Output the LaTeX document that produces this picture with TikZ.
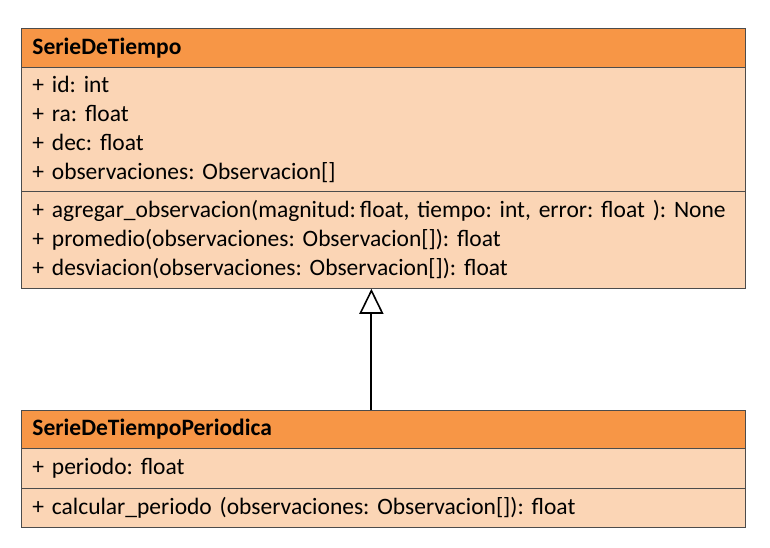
\documentclass[tikz,border=0pt]{standalone}
\usepackage{fontspec}
\setmainfont{Carlito}
\usetikzlibrary{arrows.meta}

\definecolor{cabecera}{HTML}{F79646}
\definecolor{cuerpo}{HTML}{FBD5B5}

\begin{document}
\frenchspacing
\begin{tikzpicture}
        [x=1pt,y=-1pt,every node/.style={draw=black!70,line width=0.8pt,anchor=north west,inner xsep=11pt,inner ysep=0pt,text width=702pt,align=left,font=\fontsize{23.5}{29}\selectfont},
        cabeza/.style={fill=cabecera,font=\fontsize{23.5}{29}\selectfont\bfseries},
        parte/.style={fill=cuerpo}]

        \useasboundingbox (0,0) rectangle (770,548);

        \node[cabeza,minimum height=39pt] (serie) at (21,28) {SerieDeTiempo};
        \node[parte,minimum height=124pt] (serieattr) at (21,67) {+ id: int\\+ ra: float\\+ dec: float\\+ observaciones: Observacion[]};
        \node[parte,minimum height=97pt] (seriemet) at (21,191) {\mbox{+ agregar\_observacion(magnitud:\,float, tiempo: int, error: float ): None}\\+ promedio(observaciones: Observacion[]): float\\+ desviacion(observaciones: Observacion[]): float};

        \node[cabeza,minimum height=38pt] (periodica) at (21,410) {SerieDeTiempoPeriodica};
        \node[parte,minimum height=40pt] (periodicaattr) at (21,448) {+ periodo: float};
        \node[parte,minimum height=39pt] (periodicamet) at (21,488) {+ calcular\_periodo (observaciones: Observacion[]): float};

        \draw[line width=2pt,-{Triangle[open,length=25pt,width=24pt,line width=1.6pt]}] ([xshift=-12pt]periodica.north) -- ([xshift=-12pt]seriemet.south);

\end{tikzpicture}
\end{document}
